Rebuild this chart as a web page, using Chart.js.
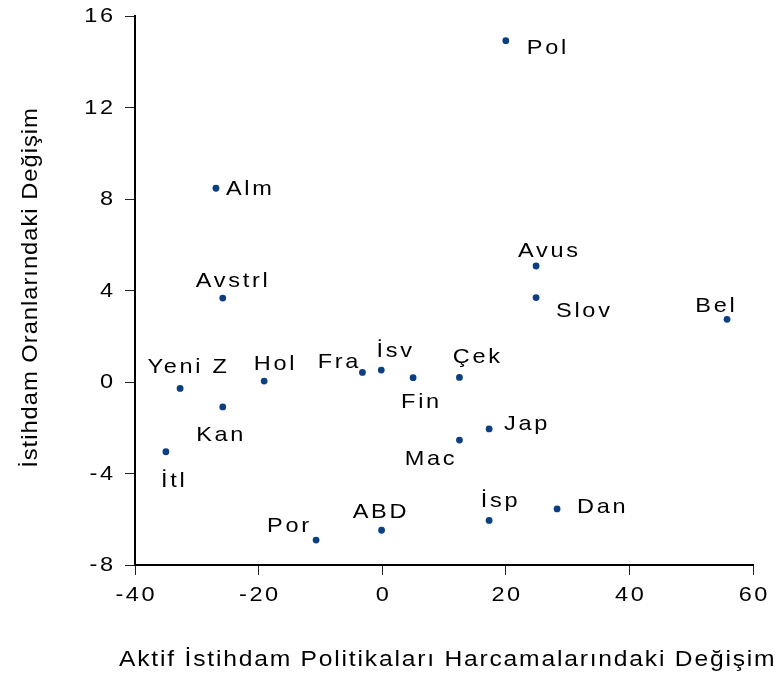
<!DOCTYPE html>
<html lang="tr">
<head>
<meta charset="utf-8">
<title>Aktif İstihdam Politikaları ve İstihdam Oranları</title>
<script src="https://cdn.jsdelivr.net/npm/chart.js@4.4.1/dist/chart.umd.min.js"></script>
<style>
  html, body { margin: 0; padding: 0; background: #fff; }
  #wrap { width: 779px; height: 680px; }
</style>
</head>
<body>
<div id="wrap"><canvas id="chart" width="779" height="680"></canvas></div>
<script>
// Country codes and the two changes
const countries = ["Pol", "Alm", "Avus", "Slov", "Bel", "Avstrl", "Yeni Z", "Hol", "Kan", "İtl",
  "Fra", "İsv", "Fin", "Çek", "Jap", "Mac", "Por", "ABD", "İsp", "Dan"]
const almpChange = [20.0, -26.9, 24.9, 24.9, 55.8, -25.8, -32.7, -19.1, -25.8, -35.0,
  -3.2, -0.15, 5.0, 12.5, 17.3, 12.5, -10.7, -0.1, 17.3, 28.3]
const employmentChange = [14.92, 8.47, 5.07, 3.69, 2.74, 3.67, -0.28, 0.04, -1.09, -3.05,
  0.42, 0.52, 0.19, 0.2, -2.05, -2.54, -6.91, -6.48, -6.05, -5.55]

const xTicks = [-40, -20, 0, 20, 40, 60]
const yTicks = [-8, -4, 0, 4, 8, 12, 16]

const xTitle = "Aktif İstihdam Politikaları Harcamalarındaki Değişim"
const yTitle = "İstihdam Oranlarındaki Değişim"

// where each label sits relative to its dot (align, offset to the text baseline)
const labelPlacement = {
  "Pol": ["left", 21, 13], "Alm": ["left", 10, 7], "Avus": ["center", 12, -9],
  "Slov": ["left", 20, 19], "Bel": ["center", -12, -7], "Avstrl": ["center", 9, -11],
  "Yeni Z": ["center", 7, -15], "Hol": ["center", 10, -11], "Kan": ["center", -3, 34],
  "İtl": ["center", 7, 35], "Fra": ["right", -4, -4], "İsv": ["center", 13, -13],
  "Fin": ["center", 7, 30], "Çek": ["center", 17, -14], "Jap": ["left", 15, 1],
  "Mac": ["right", -5, 25], "Por": ["right", -7, -8], "ABD": ["center", -2, -12],
  "İsp": ["center", 10, -13], "Dan": ["left", 20, 4]
}

const FAMILY = '"Liberation Sans", Arial, sans-serif'
const DOT = "#0b3f82"

// the original export has wide lettering: a little stretch plus some tracking
function wideText(ctx, text, x, y, align, sx, sp) {
  const trail = align === "right" ? sp * sx : align === "center" ? sp * sx / 2 : 0
  ctx.save()
  ctx.translate(x + trail, y)
  ctx.scale(sx, 1)
  ctx.letterSpacing = sp + "px"
  ctx.textAlign = align
  ctx.fillText(text, 0, 0)
  ctx.restore()
}

const textLayer = {
  id: "textLayer",
  afterDraw(chart) {
    const ctx = chart.ctx
    const xs = chart.scales.x
    const ys = chart.scales.y
    ctx.save()
    ctx.fillStyle = "#000"
    ctx.textBaseline = "alphabetic"

    // tick labels
    ctx.font = "21px " + FAMILY
    xTicks.forEach(v => wideText(ctx, String(v), xs.getPixelForValue(v), 601, "center", 1.12, 2.3))
    yTicks.forEach(v => wideText(ctx, String(v), 113, ys.getPixelForValue(v) + 6, "right", 1.12, 2.3))

    // point labels
    const meta = chart.getDatasetMeta(0)
    meta.data.forEach((pt, i) => {
      const [align, dx, dy] = labelPlacement[countries[i]]
      wideText(ctx, countries[i], pt.x + dx, pt.y + dy, align, 1.12, 2.4)
    })

    // axis titles
    ctx.font = "22px " + FAMILY
    wideText(ctx, xTitle, 119, 666, "left", 1.12, 1.6)

    ctx.translate(37, 288)
    ctx.rotate(-Math.PI / 2)
    wideText(ctx, yTitle, 0, 0, "center", 1.08, 0.9)
    ctx.restore()
  }
}

new Chart(document.getElementById("chart"), {
  type: "scatter",
  data: {
    datasets: [{
      data: countries.map((c, i) => ({ x: almpChange[i], y: employmentChange[i] })),
      pointRadius: 3.4,
      pointHoverRadius: 3.4,
      pointBorderWidth: 0,
      pointBackgroundColor: DOT
    }]
  },
  options: {
    responsive: false,
    animation: false,
    devicePixelRatio: 1,
    events: [],
    layout: { padding: { top: 16, right: 26, bottom: 0, left: 0 } },
    plugins: {
      legend: { display: false },
      tooltip: { enabled: false }
    },
    scales: {
      x: {
        type: "linear",
        min: xTicks[0],
        max: xTicks[xTicks.length - 1],
        afterBuildTicks: (scale) => { scale.ticks = xTicks.map(v => ({ value: v })) },
        afterFit: (scale) => { scale.height = 115 },
        grid: { display: true, drawOnChartArea: false, drawTicks: true, tickLength: 10, tickColor: "#222", tickWidth: 1 },
        border: { display: true, color: "#000", width: 2 },
        ticks: { display: false }
      },
      y: {
        type: "linear",
        min: yTicks[0],
        max: yTicks[yTicks.length - 1],
        afterBuildTicks: (scale) => { scale.ticks = yTicks.map(v => ({ value: v })) },
        afterFit: (scale) => { scale.width = 135 },
        grid: { display: true, drawOnChartArea: false, drawTicks: true, tickLength: 10, tickColor: "#222", tickWidth: 1 },
        border: { display: true, color: "#000", width: 2 },
        ticks: { display: false }
      }
    }
  },
  plugins: [textLayer]
})
</script>
</body>
</html>
